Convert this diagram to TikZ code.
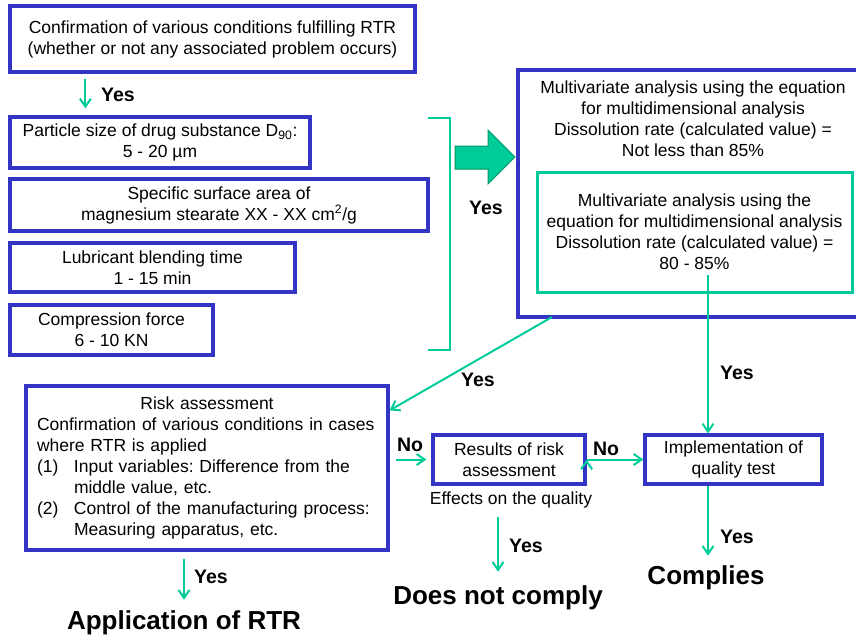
\documentclass[tikz,border=0pt]{standalone}
\usepackage{fontspec}
\setmainfont{Liberation Sans}
\usetikzlibrary{arrows.meta}
\frenchspacing

\definecolor{boxblue}{RGB}{51,51,196}
\definecolor{flowgreen}{RGB}{0,204,153}
\definecolor{darkgreen}{RGB}{0,150,100}

\tikzset{> = {Straight Barb[length=8pt,width=11pt]}}
\tikzset{
  bluebox/.style={draw=boxblue, line width=3.2pt, align=center, inner sep=0pt},
  greenbox/.style={draw=flowgreen, line width=3pt, align=center, inner sep=0pt},
  plain/.style={align=center, inner sep=0pt},
  answer/.style={inner sep=0pt, font=\fontsize{19.5}{22}\selectfont\bfseries},
  result/.style={inner sep=0pt, font=\fontsize{26}{30}\selectfont\bfseries},
  flow/.style={->, draw=flowgreen, line width=2pt}
}

\begin{document}
\begin{tikzpicture}[x=1pt, y=-1pt, font=\fontsize{17.5}{21}\selectfont]
\useasboundingbox (0,0) rectangle (856,642);
\clip (0,0) rectangle (856,642);
% nodes
\node[bluebox, minimum width=405pt, minimum height=66pt] (confirm) at (212.5,39) {Confirmation of various conditions fulfilling RTR\\(whether or not any associated problem occurs)};
\node[bluebox, minimum width=300pt, minimum height=51pt] (particle) at (160,142.5) {Particle size of drug substance D\textsubscript{90}:\\5 - 20 µm};
\node[bluebox, minimum width=418pt, minimum height=52pt] (surface) at (219,205) {Specific surface area of\\magnesium stearate XX - XX cm\textsuperscript{2}/g};
\node[bluebox, minimum width=285pt, minimum height=49pt] (blend) at (152.5,267.5) {Lubricant blending time\\1 - 15 min};
\node[bluebox, minimum width=203pt, minimum height=50pt] (force) at (111.5,330) {Compression force\\6 - 10 KN};
\node[bluebox, minimum width=353pt, minimum height=247pt] (multi) at (694.5,193.5) {};
\node[plain] (multitxt) at (693,119) {Multivariate analysis using the equation\\for multidimensional analysis\\Dissolution rate (calculated value) =\\Not less than 85\%};
\node[greenbox, minimum width=315pt, minimum height=120pt] (inner) at (694.5,232) {Multivariate analysis using the\\equation for multidimensional analysis\\Dissolution rate (calculated value) =\\80 - 85\%};
\node[bluebox, align=left, text width=340pt, minimum width=362pt, minimum height=164pt] (risk) at (207,468) {\makebox[340pt]{Risk assessment}\\Confirmation of various conditions in cases\\where RTR is applied\\\makebox[37pt][l]{(1)}Input variables: Difference from the\\\hspace*{37pt}middle value, etc.\\\makebox[37pt][l]{(2)}Control of the manufacturing process:\\\hspace*{37pt}Measuring apparatus, etc.};
\node[bluebox, minimum width=152pt, minimum height=49pt] (assess) at (509,459.5) {Results of risk\\assessment};
\node[plain] (effects) at (511,500) {Effects on the quality};
\node[bluebox, minimum width=177pt, minimum height=49pt] (quality) at (733.5,459.5) {Implementation of\\quality test};
\node[result] (apply) at (184,623) {Application of RTR};
\node[result] (fail) at (498,598) {Does not comply};
\node[result] (pass) at (706,578) {Complies};
% answers
\node[answer] (yes1) at (118,95) {Yes};
\node[answer] (yes2) at (486,208) {Yes};
\node[answer] (yes3) at (478,380) {Yes};
\node[answer] (yes4) at (737,373) {Yes};
\node[answer] (yes5) at (211,577) {Yes};
\node[answer] (yes6) at (526,546) {Yes};
\node[answer] (yes7) at (737,537) {Yes};
\node[answer] (no1) at (410,445) {No};
\node[answer] (no2) at (606,449) {No};
\coordinate (split) at (552,317);
\coordinate (qtop) at (708,275);
% bracket and block arrow
\draw[flowgreen, line width=2.8pt] (428,118) -- (450,118) -- (450,350) -- (428,350);
\draw[fill=flowgreen, draw=darkgreen, line width=1pt] (455,146) -- (488,146) -- (488,130) -- (515,157) -- (488,184) -- (488,169) -- (455,169) -- cycle;
% edges
\draw[flow]
([xshift=77pt]confirm.south west) edge[shorten <=5pt, shorten >=7pt] ([xshift=77pt]particle.north west)
(split) edge ([yshift=-26pt]risk.north east)
(qtop) edge (qtop |- quality.north)
(qtop |- quality.south) edge[shorten >=10pt] (qtop |- pass.north)
(apply.north |- risk.south) edge[shorten <=7pt, shorten >=11pt] (apply.north)
(fail.north |- effects.south) edge[shorten <=9pt, shorten >=14pt] (fail.north)
(risk.east |- assess.west) edge[shorten <=6pt, shorten >=5pt] (assess.west)
(assess.east) edge (quality.west);
\end{tikzpicture}
\end{document}
